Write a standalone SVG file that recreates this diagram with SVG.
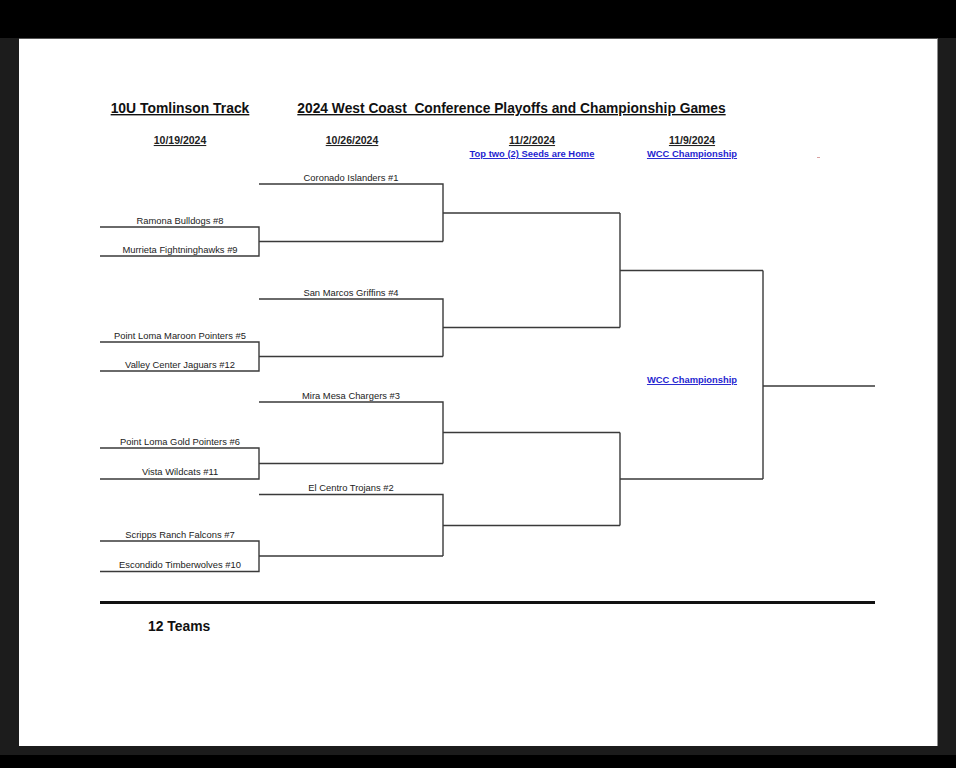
<svg xmlns="http://www.w3.org/2000/svg" width="956" height="768" viewBox="0 0 956 768">
<style>
.team{font-family:"Liberation Sans",Arial,sans-serif;font-size:9.4px;fill:#222;text-anchor:middle}
.hdr{font-family:"Liberation Sans",Arial,sans-serif;font-weight:bold;fill:#111;text-anchor:middle;text-decoration:underline;white-space:pre}
.date{font-family:"Liberation Sans",Arial,sans-serif;font-weight:bold;font-size:10.5px;fill:#222;text-anchor:middle;text-decoration:underline}
.link{font-family:"Liberation Sans",Arial,sans-serif;font-weight:bold;font-size:9.4px;fill:#1f1fd0;text-anchor:middle;text-decoration:underline}
.ln{stroke:#3a3a3a;stroke-width:1.4;fill:none}
</style>
<rect x="0" y="0" width="956" height="768" fill="#000"/>
<rect x="0" y="38" width="956" height="717" fill="#1c1c1c"/>
<rect x="19" y="38" width="918.5" height="708" fill="#fff"/>
<rect x="19" y="38" width="918.5" height="1" fill="#555"/>

<g id="headers">
<text class="hdr" x="180" y="113" font-size="13.9">10U Tomlinson Track</text>
<text class="hdr" x="511.5" y="113" font-size="13.8">2024 West Coast  Conference Playoffs and Championship Games</text>
<text class="date" x="180" y="144">10/19/2024</text>
<text class="date" x="352" y="144">10/26/2024</text>
<text class="date" x="532" y="144">11/2/2024</text>
<text class="link" x="532" y="157">Top two (2) Seeds are Home</text>
<text class="date" x="692" y="144">11/9/2024</text>
<text class="link" x="692" y="157">WCC Championship</text>
<rect x="817" y="157" width="3" height="1" fill="#d9a0a0"/>
</g>

<g id="connectors">
<path class="ln" d="M100 227H259V256H100M259 241.5H443"/>
<path class="ln" d="M259 184H443V241.5M443 213H620"/>
<path class="ln" d="M100 342H259V371H100M259 356.5H443"/>
<path class="ln" d="M259 299H443V356.5M443 327.5H620"/>
<path class="ln" d="M620 213V327.5M620 270.5H763"/>
<path class="ln" d="M100 448H259V479H100M259 463.5H443"/>
<path class="ln" d="M259 402H443V463.5M443 432.5H620"/>
<path class="ln" d="M100 541H259V571.5H100M259 556H443"/>
<path class="ln" d="M259 494.5H443V556M443 525.5H620"/>
<path class="ln" d="M620 432.5V525.5M620 479H763"/>
<path class="ln" d="M763 270.5V479M763 386H875"/>
<line x1="100" y1="602.5" x2="875" y2="602.5" stroke="#111" stroke-width="3"/>
</g>

<g id="coronado"><text class="team" x="351" y="181">Coronado Islanders #1</text></g>
<g id="ramona"><text class="team" x="180" y="224">Ramona Bulldogs #8</text></g>
<g id="murrieta"><text class="team" x="180" y="252.5">Murrieta Fightninghawks #9</text></g>
<g id="sanmarcos"><text class="team" x="351" y="296">San Marcos Griffins #4</text></g>
<g id="plmaroon"><text class="team" x="180" y="339">Point Loma Maroon Pointers #5</text></g>
<g id="valleycenter"><text class="team" x="180" y="367.5">Valley Center Jaguars #12</text></g>
<g id="miramesa"><text class="team" x="351" y="398.5">Mira Mesa Chargers #3</text></g>
<g id="plgold"><text class="team" x="180" y="444.5">Point Loma Gold Pointers #6</text></g>
<g id="vista"><text class="team" x="180" y="475">Vista Wildcats #11</text></g>
<g id="elcentro"><text class="team" x="351" y="491">El Centro Trojans #2</text></g>
<g id="scripps"><text class="team" x="180" y="537.5">Scripps Ranch Falcons #7</text></g>
<g id="escondido"><text class="team" x="180" y="568">Escondido Timberwolves #10</text></g>
<g id="wcc"><text class="link" x="692" y="383">WCC Championship</text></g>
<g id="footer"><text x="148" y="631" font-family="Liberation Sans,Arial,sans-serif" font-weight="bold" font-size="13.9" fill="#111">12 Teams</text></g>
</svg>
